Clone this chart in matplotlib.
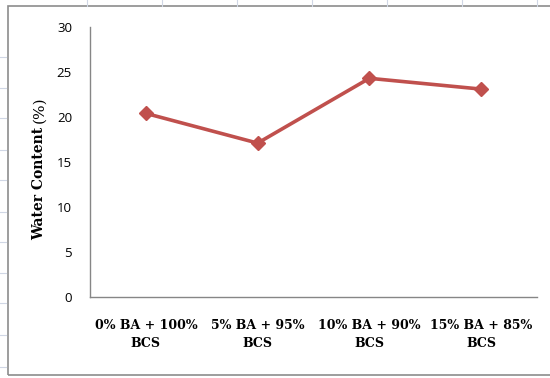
import matplotlib.pyplot as plt
from matplotlib.lines import Line2D
from matplotlib.patches import Rectangle

# mix ratios and measured water content
mixes = ["0% BA + 100%\nBCS", "5% BA + 95%\nBCS", "10% BA + 90%\nBCS", "15% BA + 85%\nBCS"]
water_content = [20.4, 17.1, 24.3, 23.1]
y_ticks = [0, 5, 10, 15, 20, 25, 30]

fig = plt.figure(figsize=(5.5, 3.78), dpi=100)

# faint sheet grid around the chart frame
for gx in [87, 162, 237, 312, 387, 462, 537]:
    fig.add_artist(Line2D([gx / 550, gx / 550], [1, 1 - 6 / 378], color="#d0d7e5", lw=0.8))
for gy in [57, 88, 118, 150, 180, 212, 242, 273, 303, 335, 367]:
    fig.add_artist(Line2D([0, 6 / 550], [1 - gy / 378, 1 - gy / 378], color="#d0d7e5", lw=0.8))

# chart frame
fig.add_artist(Rectangle((8 / 550, 3 / 378), 1.0, 1 - 9 / 378, fill=False,
                         edgecolor="#8c8c8c", lw=1.2))

ax = fig.add_axes([90 / 550, 1 - 297 / 378, 447 / 550, 270 / 378])
x = range(len(mixes))
ax.plot(x, water_content, color="#c0504d", lw=2.6, marker="D", markersize=7.5)

ax.set_xlim(-0.5, len(mixes) - 0.5)
ax.set_ylim(0, 30)
ax.set_yticks(y_ticks)
ax.set_yticklabels([str(t) for t in y_ticks], fontsize=9.5, family="Open Sans")
ax.set_xticks(list(x))
ax.set_xticklabels(mixes, fontsize=9, family="DejaVu Serif", fontweight="bold",
                   linespacing=1.45)
ax.tick_params(axis="both", length=0)
ax.tick_params(axis="y", pad=13)
ax.tick_params(axis="x", pad=16)

for side in ["top", "right"]:
    ax.spines[side].set_visible(False)
for side in ["left", "bottom"]:
    ax.spines[side].set_color("#868686")
    ax.spines[side].set_linewidth(1.0)

# y label: bold words followed by a plain unit
wc = fig.text(39 / 550, 1 - 240 / 378, "Water Content", rotation=90, ha="center",
              va="bottom", fontsize=10, family="DejaVu Serif", fontweight="bold")
bb = wc.get_window_extent(renderer=fig.canvas.get_renderer())
fig.text(39 / 550, (bb.y1 + 4) / fig.bbox.height, "(%)", rotation=90, ha="center",
         va="bottom", fontsize=11, family="DejaVu Serif")

fig.savefig("out.png", dpi=100)
